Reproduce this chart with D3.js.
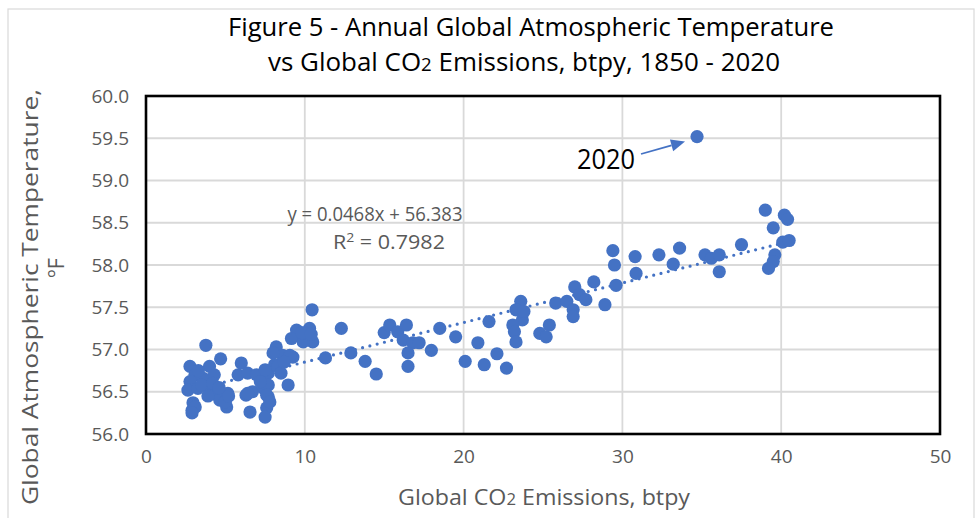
<!DOCTYPE html>
<html><head><meta charset="utf-8">
<script src="https://cdn.jsdelivr.net/npm/d3@7"></script>
<style>
html,body{margin:0;padding:0;background:#fff;}
svg{display:block;}
</style></head>
<body>
<svg id="chart" width="980" height="518"></svg>
<script>
// ---------- DATA ----------
const emissions = [
 3.77,4.7,6.0,2.77,4.0,3.08,2.77,3.6,4.3,2.64,3.27,4.0,4.5,5.0,2.96,2.9,3.1,2.9,5.08,4.65,5.15,4.97,5.8,6.4,6.96,7.7,8.1,8.2,8.6,9.25,9.5,10.1,10.5,8.95,6.7,6.3,7.4,7.7,7.6,6.55,7.5,10.46,9.48,10.3,9.16,9.9,8.0,9.06,7.5,8.3,7.7,6.4,7.6,7.8,10.1,11.3,
 3.3,3.5,4.2,5.2,3.9,4.6,7.2,8.5,9.8,10.4,8.7,
 12.3,12.9,13.8,14.5,15.0,15.35,15.85,16.4,16.2,16.8,17.2,16.5,17.97,16.5,18.5,19.5,20.9,20.1,21.3,21.6,22.1,22.7,23.6,23.3,23.7,23.1,23.2,23.3,24.8,25.2,25.4,23.8,
 25.8,26.5,26.9,26.9,27.0,27.3,27.7,28.2,28.9,29.6,29.4,29.5,30.86,30.8,32.3,33.6,33.2,35.2,35.6,36.1,36.1,37.5,39.0,40.2,40.4,39.5,40.1,40.5,39.6,39.5,39.2,
 34.7
];
const temps = [
 57.05,56.89,56.84,56.80,56.80,56.70,56.62,56.66,56.70,56.52,56.54,56.52,56.46,56.40,56.37,56.28,56.32,56.25,56.32,56.40,56.48,56.38,56.70,56.72,56.70,56.72,56.82,57.03,56.93,56.91,57.17,57.14,57.09,56.58,56.50,56.46,56.54,56.44,56.31,56.26,56.20,57.47,57.23,57.25,57.13,57.09,56.96,56.93,56.76,56.80,56.58,56.48,56.46,56.38,57.19,56.90,
 56.75,56.58,56.60,56.45,56.45,56.55,56.62,56.72,57.20,57.18,56.85,
 57.25,56.96,56.86,56.71,57.20,57.29,57.21,57.29,57.11,57.08,57.08,56.96,56.99,56.80,57.25,57.15,57.08,56.86,56.82,57.33,56.95,56.78,57.57,57.47,57.35,57.29,57.21,57.09,57.19,57.15,57.29,57.45,
 57.55,57.57,57.47,57.39,57.74,57.65,57.59,57.80,57.53,57.76,58.17,58.00,57.90,58.10,58.12,58.20,58.01,58.12,58.08,58.12,57.92,58.24,58.65,58.59,58.54,58.44,58.27,58.29,58.12,58.04,57.96,
 59.52
];
const xTicks = [0,10,20,30,40,50];
const yTicks = [56.0,56.5,57.0,57.5,58.0,58.5,59.0,59.5,60.0];
const trendSlope = 0.0468, trendIntercept = 56.383;
const titleLines = ["Figure 5 - Annual Global Atmospheric Temperature", "vs Global CO|2| Emissions, btpy, 1850 - 2020"];
const xTitle = "Global CO|2| Emissions, btpy";
const yTitle = ["Global Atmospheric Temperature,", "ºF"];
const eqText = "y = 0.0468x + 56.383";
const r2Text = ["R", "2", " = 0.7982"];
const calloutLabel = "2020";

// ---------- LAYOUT ----------
const FONT = "'Open Sans','Noto Sans',sans-serif";
const svg = d3.select("#chart");
const L = 146, R = 940, T = 96, B = 434;
const x = d3.scaleLinear().domain([0,50]).range([L,R]);
const y = d3.scaleLinear().domain([56,60]).range([B,T]);
const blue = "#4472C4", gray = "#595959";

// outer chart border
svg.append("rect").attr("x",8).attr("y",9).attr("width",966).attr("height",520)
  .attr("fill","none").attr("stroke","#d9d9d9").attr("stroke-width",1.2);

function richText(g, str, size) {
  str.split("|").forEach((p,i)=>{
    const ts = g.append("tspan").text(p);
    if (i % 2 === 1) ts.attr("font-size", size*0.72);
  });
}
function fit(sel, w) {
  sel.attr("textLength", w).attr("lengthAdjust","spacingAndGlyphs");
}

// title
const t1 = svg.append("text").attr("x",531).attr("y",36).attr("text-anchor","middle")
  .attr("font-family",FONT).attr("font-size",25).attr("fill","#000");
richText(t1, titleLines[0], 25); fit(t1, 606);
const t2 = svg.append("text").attr("x",524).attr("y",71).attr("text-anchor","middle")
  .attr("font-family",FONT).attr("font-size",25).attr("fill","#000");
richText(t2, titleLines[1], 25); fit(t2, 512);

// gridlines
const grid = svg.append("g");
grid.selectAll("line.h").data(yTicks).join("line").attr("class","h")
  .attr("x1",L).attr("x2",R).attr("y1",d=>y(d)).attr("y2",d=>y(d))
  .attr("stroke","#d9d9d9").attr("stroke-width",1.8);
grid.selectAll("line.v").data(xTicks).join("line").attr("class","v")
  .attr("y1",T).attr("y2",B).attr("x1",d=>x(d)).attr("x2",d=>x(d))
  .attr("stroke","#d9d9d9").attr("stroke-width",1.8);

// axes labels
const xAxis = svg.append("g").attr("transform",`translate(0,${B+12})`)
  .call(d3.axisBottom(x).tickValues(xTicks).tickSize(0).tickFormat(d3.format("d")));
xAxis.select(".domain").remove();
xAxis.selectAll("text").attr("font-family",FONT).attr("font-size",19).attr("fill",gray);

const yAxis = svg.append("g").attr("transform",`translate(${L-14},0)`)
  .call(d3.axisLeft(y).tickValues(yTicks).tickSize(0).tickFormat(d3.format(".1f")));
yAxis.select(".domain").remove();
yAxis.selectAll("text").attr("font-family",FONT).attr("font-size",19).attr("fill",gray);

// axis titles
const xt = svg.append("text").attr("x",544).attr("y",505).attr("text-anchor","middle")
  .attr("font-family",FONT).attr("font-size",22).attr("fill",gray);
richText(xt, xTitle, 22); fit(xt, 292);

const yt = svg.append("text").attr("transform","translate(38,297) rotate(-90)")
  .attr("text-anchor","middle").attr("font-family",FONT).attr("font-size",22).attr("fill",gray)
  .text(yTitle[0]);
fit(yt, 416);
svg.append("text").attr("transform","translate(64,268) rotate(-90)")
  .attr("text-anchor","middle").attr("font-family",FONT).attr("font-size",22).attr("fill",gray)
  .text(yTitle[1]);

// trendline
const xmin = d3.min(emissions), xmax = d3.max(emissions);
svg.append("line")
  .attr("x1",x(xmin)).attr("y1",y(trendSlope*xmin+trendIntercept))
  .attr("x2",x(xmax)).attr("y2",y(trendSlope*xmax+trendIntercept))
  .attr("stroke",blue).attr("stroke-width",3.2).attr("stroke-linecap","round")
  .attr("stroke-dasharray","0 7.5");

// points
svg.append("g").selectAll("circle").data(emissions.map((e,i)=>[e,temps[i]])).join("circle")
  .attr("cx",d=>x(d[0])).attr("cy",d=>y(d[1])).attr("r",6.6)
  .attr("fill",blue);

// frame
svg.append("rect").attr("x",L).attr("y",T).attr("width",R-L).attr("height",B-T)
  .attr("fill","none").attr("stroke","#000").attr("stroke-width",2.6);

// equation
const eq = svg.append("text").attr("x",375).attr("y",221).attr("text-anchor","middle")
  .attr("font-family",FONT).attr("font-size",20).attr("fill",gray).text(eqText);
fit(eq, 175);
const r2 = svg.append("text").attr("x",389).attr("y",249).attr("text-anchor","middle")
  .attr("font-family",FONT).attr("font-size",20).attr("fill",gray);
r2.append("tspan").text(r2Text[0]);
r2.append("tspan").attr("dy",-7).attr("font-size",13).text(r2Text[1]);
r2.append("tspan").attr("dy",7).text(r2Text[2]);
fit(r2, 112);

// callout 2020
const last = emissions.length-1;
const px = x(emissions[last]), py = y(temps[last]);
const cl = svg.append("text").attr("x",606).attr("y",169).attr("text-anchor","middle")
  .attr("font-family",FONT).attr("font-size",27).attr("fill","#000").text(calloutLabel);
fit(cl, 58);
const ax1 = 641, ay1 = 154, ax2 = px-12, ay2 = py+5;
const ang = Math.atan2(ay2-ay1, ax2-ax1);
const hl = 14, hw = 6;
const bx = ax2 - hl*Math.cos(ang), by = ay2 - hl*Math.sin(ang);
svg.append("line").attr("x1",ax1).attr("y1",ay1).attr("x2",bx).attr("y2",by)
  .attr("stroke",blue).attr("stroke-width",1.8);
svg.append("path").attr("d",
  `M${ax2},${ay2} L${bx - hw*Math.sin(ang)},${by + hw*Math.cos(ang)} L${bx + hw*Math.sin(ang)},${by - hw*Math.cos(ang)} Z`)
  .attr("fill",blue);
</script>
</body></html>
